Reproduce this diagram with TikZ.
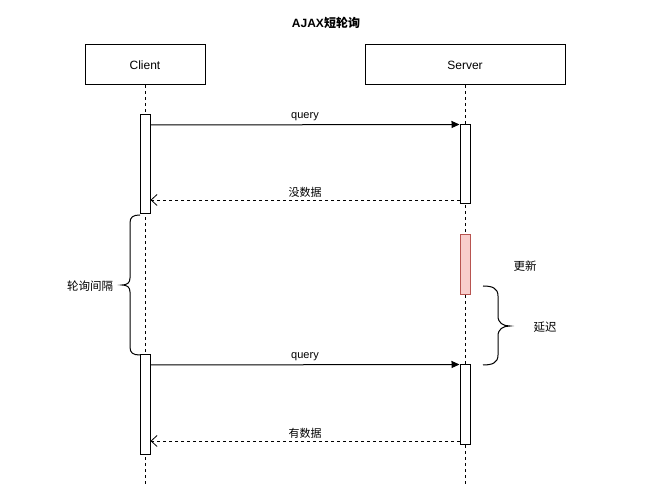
\documentclass[tikz,border=0pt]{standalone}
\usepackage{fontspec}
\setmainfont{Liberation Sans}
\newfontfamily\cjk{Noto Sans CJK SC}
\usetikzlibrary{arrows.meta}
\definecolor{updfill}{HTML}{F8CECC}
\definecolor{updline}{HTML}{B85450}
\tikzset{
  actor/.style={draw, line width=1pt, fill=white, minimum width=120pt, minimum height=40pt, inner sep=0pt, font=\fontsize{12}{14}\selectfont},
  act/.style={draw, line width=1pt, fill=white, minimum width=10pt, inner sep=0pt},
  upd/.style={draw=updline, line width=1pt, fill=updfill, minimum width=10pt, inner sep=0pt},
  life/.style={line width=0.8pt, dash pattern=on 3pt off 3pt},
  msg/.style={line width=1pt, -{Triangle[length=8pt,width=7pt]}},
  ret/.style={line width=0.8pt, dash pattern=on 3pt off 3pt, -{Straight Barb[length=6pt,width=11pt,line width=0.8pt]}},
  lbl/.style={fill=white, inner sep=1pt, font=\fontsize{11}{13}\selectfont},
  txt/.style={inner sep=0pt, font=\fontsize{11.5}{13}\selectfont},
  brace/.style={line width=1pt}
}
\begin{document}
\begin{tikzpicture}[x=1pt,y=-1pt]
\useasboundingbox (0,0) rectangle (662,502);
\node[txt, font=\fontsize{12}{14}\selectfont\bfseries] (title) at (326,23) {AJAX{\cjk 短轮询}};
\node[actor, minimum width=120pt] (client) at (145,65) {Client};
\node[actor, minimum width=200pt] (server) at (465,65) {Server};
\coordinate (cend) at (145,487);
\coordinate (send) at (465,487);
\draw[life] (client.south) -- (cend);
\draw[life] (server.south) -- (send);
% activations
\node[act, minimum height=99pt] (c1) at (145,164.5) {};
\node[act, minimum height=79pt] (s1) at (465,164.5) {};
\node[upd, minimum height=60pt] (u1) at (465,265) {};
\node[act, minimum height=100pt] (c2) at (145,405) {};
\node[act, minimum height=80pt] (s2) at (465,405) {};
% messages
\coordinate (q1s) at (150,125);
\coordinate (r1s) at (460,200);
\coordinate (q2s) at (150,365);
\coordinate (r2s) at (460,441);
\draw[msg] (q1s) -- (s1.north west);
\node[lbl] (q1l) at (305,117) {query};
\draw[ret] (r1s) -- (c1.east |- r1s);
\node[lbl] (r1l) at (305,192) {\cjk 没数据};
\draw[msg] (q2s) -- (s2.north west);
\node[lbl] (q2l) at (305,357) {query};
\draw[ret] (r2s) -- (c2.east |- r2s);
\node[lbl] (r2l) at (305,433) {\cjk 有数据};
% braces
\draw[brace] (140,215) .. controls (133,215) and (130,217) .. (130,223) -- (130,278)
  .. controls (130,283) and (127,285) .. (122,285)
  .. controls (127,285) and (130,287) .. (130,292) -- (130,347)
  .. controls (130,353) and (133,355) .. (140,355);
\node[txt] (interval) at (90,286) {\cjk 轮询间隔};
\draw[brace] (483,286) .. controls (492,286) and (498,288) .. (498,296) -- (498,316)
  .. controls (498,323) and (503,326) .. (510,326)
  .. controls (503,326) and (498,329) .. (498,336) -- (498,355)
  .. controls (498,363) and (492,365) .. (483,365);
\node[txt] (update) at (525,266) {\cjk 更新};
\node[txt] (delay) at (545,327) {\cjk 延迟};
\end{tikzpicture}
\end{document}
